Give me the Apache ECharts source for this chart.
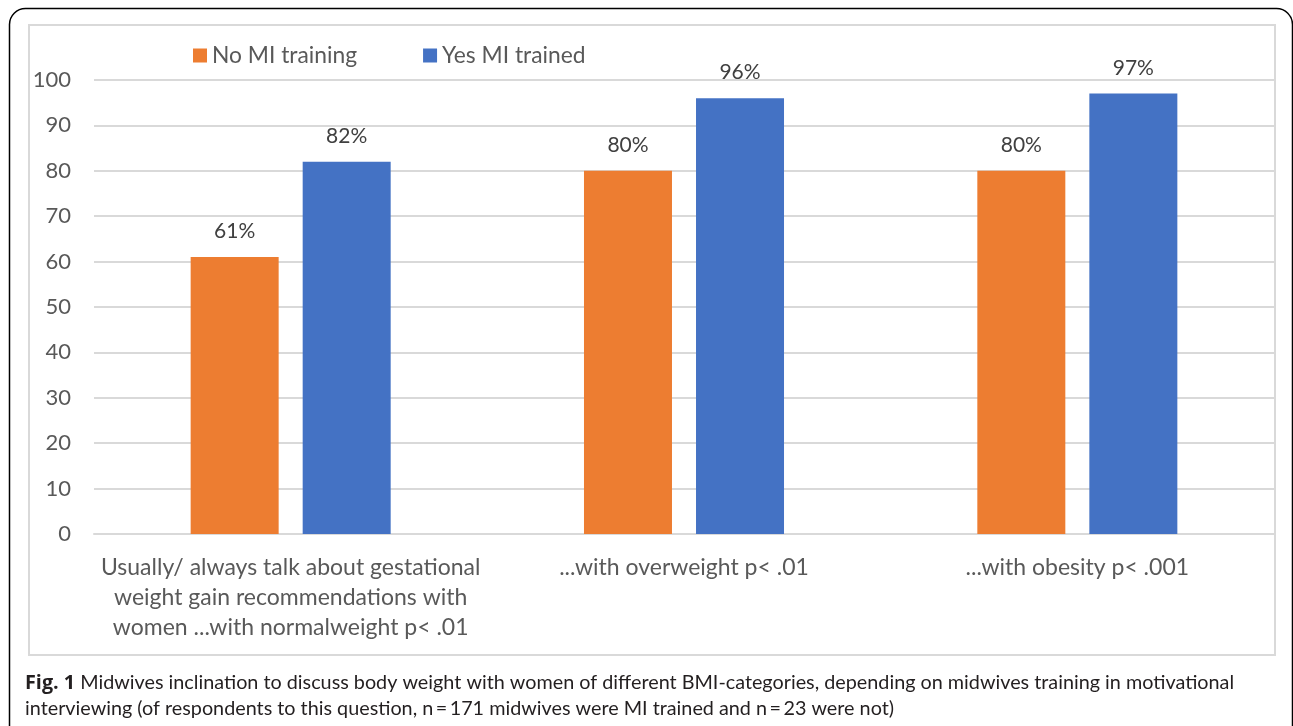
<!DOCTYPE html>
<html>
<head>
<meta charset="utf-8">
<script src="https://cdn.jsdelivr.net/npm/echarts@6/dist/echarts.min.js"></script>
<style>
html,body{margin:0;padding:0;background:#fff;}
#chart{width:1293px;height:726px;}
</style>
</head>
<body>
<div id="chart"></div>
<script>
var categories = [
  'Usually/ always talk about gestational\nweight gain recommendations with\nwomen ...with normalweight p< .01',
  '...with overweight p< .01',
  '...with obesity p< .001'
];
var seriesNames = ['No MI training', 'Yes MI trained'];
var noTraining = [61, 80, 80];
var yesTrained = [82, 96, 97];
var yTicks = [0, 10, 20, 30, 40, 50, 60, 70, 80, 90, 100];
var captionBold = 'Fig. 1';
var captionLine1 = ' Midwives inclination to discuss body weight with women of different BMI-categories, depending on midwives training in motivational';
var captionLine2 = 'interviewing (of respondents to this question, n\u2009=\u2009171 midwives were MI trained and n\u2009=\u200923 were not)';

var chart = echarts.init(document.getElementById('chart'));
var font = 'Lato, "Open Sans", sans-serif';
var labelCfg = {
  show: true, position: 'top', distance: 15,
  formatter: '{c}%', color: '#404040', fontSize: 21, fontFamily: font
};
chart.setOption({
  animation: false,
  textStyle: { fontFamily: font },
  graphic: [
    { type: 'rect', z: 0, shape: { x: 9.5, y: 8.5, width: 1283, height: 760, r: 16 },
      style: { fill: 'none', stroke: '#000', lineWidth: 1.5 } },
    { type: 'rect', z: 0, shape: { x: 29, y: 25, width: 1246, height: 630 },
      style: { fill: 'none', stroke: '#d9d9d9', lineWidth: 2 } },
    { type: 'text', left: 25, top: 673, z: 5,
      style: { text: '{b|' + captionBold + '}{n|' + captionLine1 + '}', rich: {
        b: { fontWeight: 'bold', fontSize: 19.8, fill: '#231f20', fontFamily: '"Open Sans", sans-serif' },
        n: { fontSize: 19.8, fill: '#231f20', fontFamily: font } } } },
    { type: 'text', left: 25, top: 699, z: 5,
      style: { text: captionLine2, fontSize: 19.8, fill: '#231f20', fontFamily: font } }
  ],
  legend: {
    left: 193, top: 44, padding: 0, itemWidth: 14, itemHeight: 14, itemGap: 66,
    icon: 'rect', data: seriesNames,
    textStyle: { color: '#595959', fontSize: 22.8, fontFamily: font }
  },
  grid: { left: 94, right: 19, top: 80, bottom: 192, containLabel: false },
  xAxis: {
    type: 'category', data: categories,
    axisLine: { show: true, lineStyle: { color: '#d9d9d9', width: 2 } },
    axisTick: { show: false },
    axisLabel: { color: '#595959', fontSize: 23, fontFamily: font, lineHeight: 30, margin: 19, interval: 0 }
  },
  yAxis: {
    type: 'value', min: 0, max: 100, interval: 10,
    axisLine: { show: false }, axisTick: { show: false },
    splitLine: { lineStyle: { color: '#d9d9d9', width: 2 } },
    axisLabel: { color: '#595959', fontSize: 22, fontFamily: font, margin: 23,
      formatter: function (v) { return yTicks.indexOf(v) >= 0 ? String(v) : ''; } }
  },
  series: [
    { name: seriesNames[0], type: 'bar', data: noTraining, barWidth: 88, barGap: '27.3%',
      itemStyle: { color: '#ED7D31' }, label: labelCfg },
    { name: seriesNames[1], type: 'bar', data: yesTrained, barWidth: 88,
      itemStyle: { color: '#4472C4' }, label: labelCfg }
  ]
});
</script>
</body>
</html>
